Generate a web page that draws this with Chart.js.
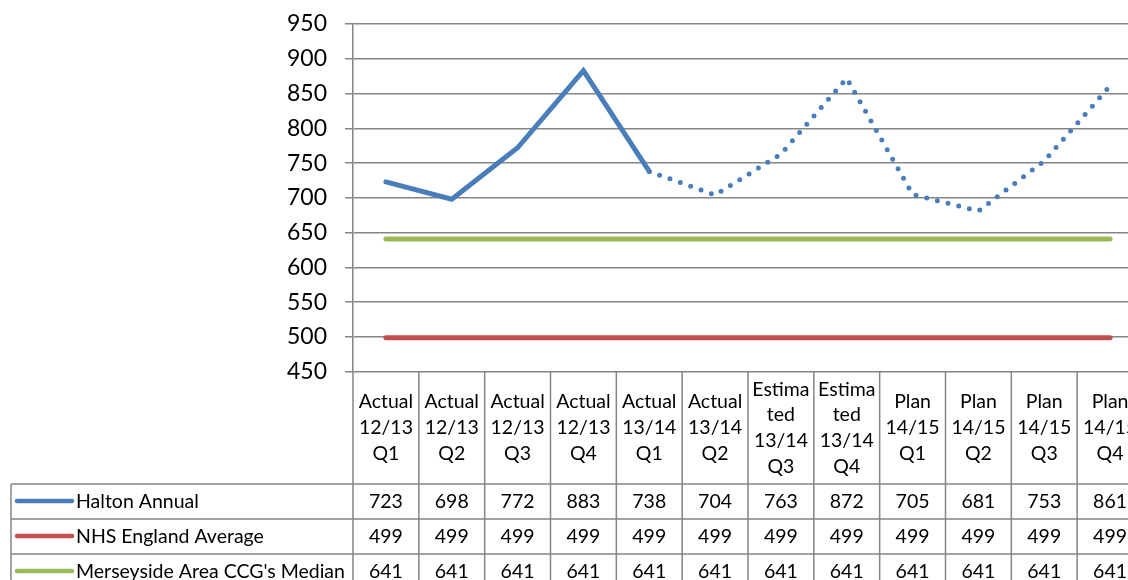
<!DOCTYPE html>
<html>
<head>
<meta charset="utf-8">
<script src="https://cdn.jsdelivr.net/npm/chart.js@4/dist/chart.umd.min.js"></script>
<style>
  html,body{margin:0;padding:0;background:#fff;overflow:hidden;}
  #wrap{width:1128px;height:580px;overflow:hidden;position:relative;}
  canvas{display:block;}
</style>
</head>
<body>
<div id="wrap"><canvas id="c" width="1143" height="580"></canvas></div>
<script>
// ---- data ----
const categoryLines = [
  ["Actual","12/13","Q1"],
  ["Actual","12/13","Q2"],
  ["Actual","12/13","Q3"],
  ["Actual","12/13","Q4"],
  ["Actual","13/14","Q1"],
  ["Actual","13/14","Q2"],
  ["Estima","ted","13/14","Q3"],
  ["Estima","ted","13/14","Q4"],
  ["Plan","14/15","Q1"],
  ["Plan","14/15","Q2"],
  ["Plan","14/15","Q3"],
  ["Plan","14/15","Q4"]
];
const haltonAnnual = [723, 698, 772, 883, 738, 704, 763, 872, 705, 681, 753, 861];
const nhsEnglandAverage = [499, 499, 499, 499, 499, 499, 499, 499, 499, 499, 499, 499];
const merseysideMedian = [641, 641, 641, 641, 641, 641, 641, 641, 641, 641, 641, 641];
const seriesNames = ["Halton Annual", "NHS England Average", "Merseyside Area CCG's Median"];
const lastActualIndex = 4;
const yMin = 450, yMax = 950, yStep = 50;

const FONT = "Lato, 'Liberation Sans', sans-serif";
const GRID = '#858585';
const colors = ['#4a7ebb', '#c0504d', '#9bbb59'];

const tablePlugin = {
  id: 'dataTable',
  afterDraw(chart) {
    const ctx = chart.ctx;
    const x = chart.scales.x;
    const area = chart.chartArea;
    const n = categoryLines.length;
    const colW = (area.right - area.left) / n;
    const headerBottom = 484;
    const rowH = 35;
    const rows = [haltonAnnual, nhsEnglandAverage, merseysideMedian];
    const legendLeft = 11;
    ctx.save();
    ctx.strokeStyle = GRID;
    ctx.lineWidth = 1.5;
    for (let i = 0; i <= n; i++) {
      const px = area.left + i * colW;
      ctx.beginPath();
      ctx.moveTo(px, area.bottom);
      ctx.lineTo(px, chart.height);
      ctx.stroke();
    }
    ctx.beginPath();
    ctx.moveTo(legendLeft, headerBottom);
    ctx.lineTo(legendLeft, chart.height);
    ctx.stroke();
    for (let r = 0; r < 3; r++) {
      const py = headerBottom + r * rowH;
      ctx.beginPath();
      ctx.moveTo(legendLeft, py);
      ctx.lineTo(chart.width, py);
      ctx.stroke();
    }
    ctx.fillStyle = '#000';
    ctx.font = '19.5px ' + FONT;
    ctx.textAlign = 'center';
    ctx.textBaseline = 'middle';
    const lineH = 25.7;
    const headerMid = (area.bottom + headerBottom) / 2;
    for (let i = 0; i < n; i++) {
      const cx = x.getPixelForValue(i);
      const lines = categoryLines[i];
      const startY = headerMid - (lines.length - 1) * lineH / 2;
      lines.forEach((t, k) => ctx.fillText(t, cx, startY + k * lineH));
    }
    for (let r = 0; r < 3; r++) {
      const cy = headerBottom + r * rowH + rowH / 2 + 0.5;
      for (let i = 0; i < n; i++) {
        ctx.fillText(String(rows[r][i]), x.getPixelForValue(i), cy);
      }
      ctx.save();
      ctx.strokeStyle = colors[r];
      ctx.lineWidth = 4.5;
      ctx.lineCap = 'round';
      ctx.beginPath();
      ctx.moveTo(17, cy - 1);
      ctx.lineTo(72, cy - 1);
      ctx.stroke();
      ctx.restore();
      ctx.textAlign = 'left';
      ctx.fillText(seriesNames[r], 76, cy);
      ctx.textAlign = 'center';
    }
    ctx.restore();
  }
};

new Chart(document.getElementById('c'), {
  type: 'line',
  data: {
    labels: categoryLines.map(l => l.join(' ')),
    datasets: [
      {
        label: seriesNames[0],
        data: haltonAnnual,
        borderColor: colors[0],
        borderWidth: 5,
        borderCapStyle: 'round',
        pointRadius: 0,
        tension: 0,
        segment: {
          borderDash: c => c.p0DataIndex >= lastActualIndex ? [0, 11] : undefined
        }
      },
      {
        label: seriesNames[1],
        data: nhsEnglandAverage,
        borderColor: colors[1],
        borderWidth: 5,
        borderCapStyle: 'round',
        pointRadius: 0
      },
      {
        label: seriesNames[2],
        data: merseysideMedian,
        borderColor: colors[2],
        borderWidth: 5,
        borderCapStyle: 'round',
        pointRadius: 0
      }
    ]
  },
  options: {
    responsive: false,
    animation: false,
    devicePixelRatio: 1,
    layout: { padding: { left: 0, right: 0, top: 24, bottom: 208.3 } },
    plugins: { legend: { display: false }, tooltip: { enabled: false } },
    scales: {
      x: {
        display: false,
        offset: true
      },
      y: {
        min: yMin,
        max: yMax,
        ticks: {
          stepSize: yStep,
          color: '#000',
          font: { family: FONT, size: 23 },
          padding: 18
        },
        grid: { color: GRID, lineWidth: 1.5, tickLength: 8 },
        border: { display: true, color: GRID, width: 1.5 },
        afterFit(scale) {
          scale.width = 353;
          scale.paddingTop = 0;
          scale.paddingBottom = 0;
        }
      }
    }
  },
  plugins: [tablePlugin]
});
</script>
</body>
</html>
